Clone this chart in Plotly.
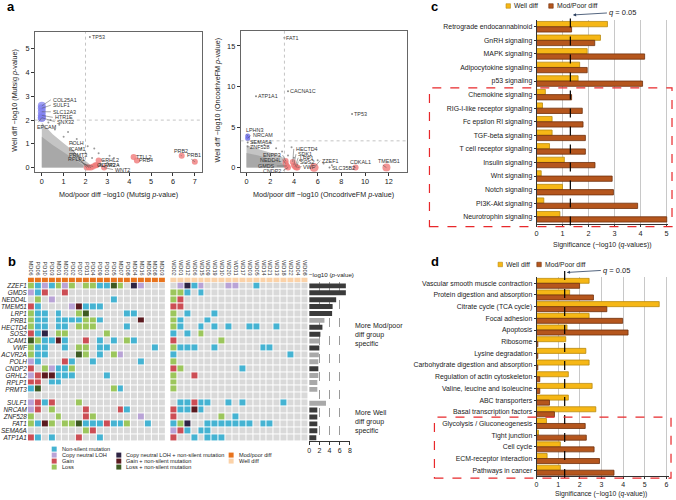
import math
import plotly.graph_objects as go

W, H = 676, 500
def fx(p): return p / W
def fy(p): return 1 - p / H
FONT = "Liberation Sans, Arial, Helvetica, sans-serif"

# ---------------- panel a data ----------------
mut_cloud_x = [0, 0, 0.2, 0.5, 0.9, 1.3, 1.7, 2.0, 2.25, 2.25]
mut_cloud_y = [0, 1.9, 1.7, 1.4, 1.1, 0.8, 0.5, 0.3, 0.1, 0]
mut_core_x = [0, 0, 0.5, 1.0, 1.5, 1.9, 1.9]
mut_core_y = [0, 1.3, 0.95, 0.65, 0.35, 0.1, 0]
mut_sparse_x = [0.3, 0.6, 1.0, 1.4, 1.8, 2.0, 2.3, 2.6, 2.8, 3.0, 3.3, 3.5, 2.4, 1.2, 0.8, 2.1, 3.1, 2.7, 1.6, 0.4]
mut_sparse_y = [1.9, 1.6, 1.3, 1.0, 0.8, 0.6, 0.4, 0.6, 0.3, 0.2, 0.4, 0.1, 0.8, 1.5, 1.8, 0.9, 0.5, 0.15, 1.2, 2.0]
mut_blue_genes = ["COL25A1", "SULF1", "SLC12A3", "HTR1E", "SNX32", "EPCAM"]
mut_blue_x = [0, 0, 0, 0, 0, 0]
mut_blue_y = [2.6, 2.5, 2.35, 2.2, 2.1, 2.1]
mut_red_genes = ["POLH", "ICAM1", "PRMT3", "RPLP1", "OLFM3", "GRHL2", "ACVR2A", "WNT2", "TTLL2", "PRB4", "PRB2", "PRB1"]
mut_red_x = [2.05, 2.15, 2.25, 2.35, 2.45, 2.6, 2.5, 2.85, 4.2, 4.35, 6.4, 7.0]
mut_red_y = [0.0, 0.0, 0.0, 0.05, 0.1, 0.3, 0.1, 0.0, 0.45, 0.3, 0.5, 0.25]
mut_gray_genes = ["TP53"]
mut_gray_x = [2.2]
mut_gray_y = [5.5]
mut_thr_x, mut_thr_y = 2.0, 2.0

fm_cloud_x = [0, 0, 0.5, 1.2, 2.0, 2.8, 3.3, 3.6, 3.6]
fm_cloud_y = [0, 2.8, 2.5, 2.2, 1.9, 1.5, 1.0, 0.4, 0]
fm_core_x = [0, 0, 1.0, 2.0, 2.8, 3.2, 3.2]
fm_core_y = [0, 1.8, 1.5, 1.1, 0.7, 0.3, 0]
fm_sparse_x = [0.5, 1.5, 2.5, 3.0, 3.5, 4.0, 4.5, 5.0, 5.5, 6.0, 6.5, 7.2, 4.8, 3.8, 2.0, 1.0, 4.3, 5.2]
fm_sparse_y = [3.1, 2.8, 2.4, 2.0, 1.5, 1.2, 0.9, 0.6, 0.4, 0.9, 0.5, 0.3, 1.5, 2.5, 3.0, 3.2, 0.3, 1.1]
fm_blue_genes = ["LPHN3", "NRCAM"]
fm_blue_x = [0.1, 0.1]
fm_blue_y = [3.9, 3.6]
fm_red_genes = ["ENPP3", "NEDD4L", "GMDS", "CNDP2", "HECTD4", "SDK1", "LRP1", "SOS2", "VWF", "ZZEF1", "CDKAL1", "TMEM51"]
fm_red_x = [3.3, 3.3, 3.4, 3.5, 3.9, 4.0, 4.1, 4.2, 4.3, 5.7, 9.2, 11.8]
fm_red_y = [0.8, 0.5, 0.2, 0.0, 0.7, 0.3, 0.1, 0.0, 0.0, 0.0, 0.0, 0.0]
fm_red_size = [6, 6, 6, 6, 6, 6, 6, 6, 6, 9, 6, 8]
fm_gray_genes = ["FAT1", "ATP1A1", "CACNA1C", "TP53", "SEMA6A", "ZNF528", "SLC35B2"]
fm_gray_x = [3.2, 0.8, 3.5, 8.9, 0.1, 0.1, 7.0]
fm_gray_y = [16.0, 8.8, 9.4, 6.6, 3.1, 2.6, 0.0]
fm_thr_x, fm_thr_y = 3.2, 3.3

# ---------------- panel b data ----------------
genes_top = ["ZZEF1", "GMDS", "NEDD4L", "TMEM51", "LRP1", "PRB1", "HECTD4", "SOS2", "ICAM1", "VWF",
             "ACVR2A", "POLH", "CNDP2", "GRHL2", "RPLP1", "PRMT3"]
genes_bottom = ["SULF1", "NRCAM", "ZNF528", "FAT1", "SEMA6A", "ATP1A1"]
mp_samples = ["MD06", "PD06", "PD10", "PD03", "MD01", "MD02", "PD02", "PD07", "PD11", "PD04",
              "PD09", "PD01", "PD05", "MD07", "PD08", "MD04", "MD16", "MD05", "MD08", "MD03"]
wd_samples = ["WD02", "WD01", "WD12", "WD06", "WD15", "WD09", "WD19", "WD10", "WD20", "WD11",
              "WD17", "WD03", "WD05", "WD14", "WD21", "WD13", "WD18", "WD22", "WD04", "WD08"]
# . none, B non-silent, L CN-LOH, R gain, G loss, P CN-LOH+mut, D gain+mut, K loss+mut
mp_rows_top = ["GBLBGLG.GGBBKG.PL...", "LBR..R..............", ".G.L........B.......", "RB....LDBBB.........",
               "GBB.B..GK.....BB....", "GBB.BBBBGGB.....D...", "GBB.BB.GGG....B.....", "RBP.GG.....G........",
               "KGBBDB..R.B.B.GB....", "GBB..B.GG.BB......B.", "GBB....KG.B.GL......", "LB...RB..B......B...",
               "R.GLBBG.............", "LRDDBBB....B........", "RR.BB...............", "BK..........GB......"]
wd_rows_top = [".LPBL...LL..B.......", "GGB.B...............", "GR..................", "RR..................",
               "G.B...B.............", "GB...B..............", "GB..B.B.B..BB..B....", "B.B.G...............",
               "R......G............", "GBBB..B......BB.....", "B................B..", "G...................",
               "RG........B.........", "G..R................", "G...................", "G..................."]
mp_rows_bottom = ["LRBR...G............", "LR.G....R....RB.....", "G...G...RG......L...",
                  "GBDG.GGKBBBRBBG..B..", "........GR..........", "RB.B...R..B........."]
wd_rows_bottom = [".BBRBB..B.B.....B...", "RBBDB...............", "R......G.B..........",
                  "BGP..BBBBBBB.BB.....", "LRB.BB..............", "R..B.BBB............"]
pval_top = [7.2, 7.2, 5.3, 4.6, 4.5, 3.0, 2.6, 2.2, 2.0, 2.0, 1.9, 1.8, 1.8, 1.8, 1.6, 1.6]
pval_bottom = [3.3, 1.6, 1.6, 1.6, 1.6, 1.4]
pval_dark_top = [1, 1, 1, 1, 1, 0, 1, 1, 0, 1, 0, 0, 1, 0, 0, 0]
pval_dark_bottom = [0, 1, 1, 1, 1, 1]

# ---------------- panel c data ----------------
c_pathways = ["Retrograde endocannabinoid", "GnRH signaling", "MAPK signaling", "Adipocytokine signaling",
              "p53 signaling", "Chemokine signaling", "RIG-I-like receptor signaling", "Fc epsilon RI signaling",
              "TGF-beta signaling", "T cell receptor signaling", "Insulin signaling", "Wnt signaling",
              "Notch signaling", "PI3K-Akt signaling", "Neurotrophin signaling"]
c_well = [2.73, 2.46, 1.95, 1.66, 1.6, 0.34, 0.23, 0.6, 0.6, 0.5, 1.07, 0.18, 1.0, 0.28, 0.9]
c_modpoor = [1.35, 2.24, 4.16, 1.95, 4.08, 1.35, 1.76, 1.79, 1.88, 1.88, 2.25, 2.91, 2.96, 3.89, 5.01]

# ---------------- panel d data ----------------
d_pathways = ["Vascular smooth muscle contraction", "Protein digestion and absorption", "Citrate cycle (TCA cycle)",
              "Focal adhesion", "Apoptosis", "Ribosome", "Lysine degradation", "Carbohydrate digestion and absorption",
              "Regulation of actin cytoskeleton", "Valine, leucine and isoleucine", "ABC transporters",
              "Basal transcription factors", "Glycolysis / Gluconeogenesis", "Tight junction", "Cell cycle",
              "ECM-receptor interaction", "Pathways in cancer"]
d_well = [2.43, 1.53, 5.67, 2.43, 1.41, 1.35, 2.28, 2.43, 1.47, 2.57, 1.47, 2.74, 0.46, 0.09, 1.1, 0.49, 1.1]
d_modpoor = [1.99, 2.63, 3.25, 3.98, 4.23, 0.06, 0.06, 0.06, 0.15, 0.15, 0.6, 0.83, 2.25, 2.3, 2.66, 2.91, 3.58]
q_thresh = 0.05
q_line = -math.log10(q_thresh)

YEL, YEL_L = "#F6B716", "#B98A10"
BRN, BRN_L = "#B5561D", "#6E300C"
code_map = {".": 0, "B": 1, "L": 2, "R": 3, "G": 4, "P": 5, "D": 6, "K": 7}
code_cols = ["#d9d9d9", "#45b3d2", "#b9a3d6", "#cc4e55", "#9cc65c", "#2e2444", "#5b1a1f", "#3e5a22"]
MP_COL, WD_COL = "#E8731C", "#FBD2A8"

fig = go.Figure()

def cloud(xs, ys, color, xa, ya):
    fig.add_trace(go.Scatter(x=xs, y=ys, fill="toself", mode="lines", line=dict(width=0),
                             fillcolor=color, xaxis=xa, yaxis=ya, hoverinfo="skip"))

def pts(xs, ys, color, size, xa, ya, opacity=1.0):
    fig.add_trace(go.Scatter(x=xs, y=ys, mode="markers", xaxis=xa, yaxis=ya,
                             marker=dict(color=color, size=size, opacity=opacity, line=dict(width=0))))

cloud(mut_cloud_x, mut_cloud_y, "#c4c4c4", "x", "y")
cloud(mut_core_x, mut_core_y, "#a8a8a8", "x", "y")
pts(mut_sparse_x, mut_sparse_y, "#9a9a9a", 2, "x", "y")
pts(mut_gray_x, mut_gray_y, "#888", 2, "x", "y")
pts(mut_blue_x, mut_blue_y, "#7c7cf0", 8, "x", "y", 0.7)
pts(mut_red_x, mut_red_y, "#f07a7a", 6, "x", "y", 0.8)

cloud(fm_cloud_x, fm_cloud_y, "#c4c4c4", "x2", "y2")
cloud(fm_core_x, fm_core_y, "#a8a8a8", "x2", "y2")
pts(fm_sparse_x, fm_sparse_y, "#9a9a9a", 2, "x2", "y2")
pts(fm_gray_x, fm_gray_y, "#888", 2, "x2", "y2")
pts(fm_blue_x, fm_blue_y, "#6a6ae8", 5, "x2", "y2", 0.8)
pts(fm_red_x, fm_red_y, "#f07a7a", fm_red_size, "x2", "y2", 0.8)

# ---- panel b heatmaps
ncol = 20
rows_mp = mp_rows_top + ["." * ncol] + mp_rows_bottom
rows_wd = wd_rows_top + ["." * ncol] + wd_rows_bottom
def zmat(rows):
    return [[code_map[ch] for ch in r.ljust(ncol, ".")[:ncol]] for r in rows]
cs = []
n = len(code_cols)
for i, c in enumerate(code_cols):
    cs.append([i / n, c]); cs.append([(i + 1) / n, c])
mp_x = list(range(ncol))
wd_x = [i + 20.7 for i in range(ncol)]
yrows = list(range(len(rows_mp)))
for xs, rows in ((mp_x, rows_mp), (wd_x, rows_wd)):
    fig.add_trace(go.Heatmap(x=xs, y=yrows, z=zmat(rows), colorscale=cs, zmin=-0.5, zmax=n - 0.5,
                             xgap=1, ygap=1, showscale=False, xaxis="x5", yaxis="y5"))
fig.add_trace(go.Heatmap(x=mp_x, y=[0], z=[[0] * ncol], colorscale=[[0, MP_COL], [1, MP_COL]],
                         xgap=1, showscale=False, xaxis="x5", yaxis="y6"))
fig.add_trace(go.Heatmap(x=wd_x, y=[0], z=[[0] * ncol], colorscale=[[0, WD_COL], [1, WD_COL]],
                         xgap=1, showscale=False, xaxis="x5", yaxis="y6"))
gene_rows = genes_top + [""] + genes_bottom
pv = pval_top + [None] + pval_bottom
pdk = pval_dark_top + [0] + pval_dark_bottom
bar_cols = ["#3b3b3b" if d else "#a9a9a9" for d in pdk]
fig.add_trace(go.Bar(x=pv, y=yrows, orientation="h", width=0.72, marker=dict(color=bar_cols, line=dict(width=0)),
                     xaxis="x7", yaxis="y5"))

# ---- panel c / d bars
def bars(cats, well, mod, xa, ya, w):
    fig.add_trace(go.Bar(y=cats, x=well, orientation="h", width=w, offset=-w, xaxis=xa, yaxis=ya,
                         marker=dict(color=YEL, line=dict(color=YEL_L, width=0.8))))
    fig.add_trace(go.Bar(y=cats, x=mod, orientation="h", width=w, offset=0, xaxis=xa, yaxis=ya,
                         marker=dict(color=BRN, line=dict(color=BRN_L, width=0.8))))
bars(c_pathways, c_well, c_modpoor, "x3", "y3", 0.39)
bars(d_pathways, d_well, d_modpoor, "x4", "y4", 0.43)

tf = dict(family=FONT, size=7.3, color="#222")
ax_common = dict(showline=True, linecolor="#333", linewidth=0.8, ticks="outside", ticklen=3, tickwidth=0.8,
                 tickcolor="#333", zeroline=False, showgrid=False, tickfont=tf)
catfont = dict(family=FONT, size=6.9, color="#222")

layout = dict(
    width=W, height=H, margin=dict(l=0, r=0, t=0, b=0), autosize=False,
    paper_bgcolor="white", plot_bgcolor="white", showlegend=False, barmode="overlay",
    font=dict(family=FONT, color="#222"),
    xaxis=dict(ax_common, domain=[fx(33), fx(201)], range=[-0.32, 7.32], tickvals=list(range(8)),
               anchor="y", mirror=True, linecolor="#666"),
    yaxis=dict(ax_common, domain=[fy(172), fy(32)], range=[-0.17, 5.71], tickvals=list(range(6)),
               anchor="x", mirror=True, linecolor="#666"),
    xaxis2=dict(ax_common, domain=[fx(240), fx(407)], range=[-0.5, 13.5], tickvals=list(range(0, 13, 2)),
                anchor="y2", mirror=True, linecolor="#666"),
    yaxis2=dict(ax_common, domain=[fy(172), fy(31)], range=[-0.5, 16.85], tickvals=[0, 5, 10, 15],
                anchor="x2", mirror=True, linecolor="#666"),
    xaxis3=dict(ax_common, domain=[fx(537.7), fx(670)], range=[0, 5.06], tickvals=list(range(6)),
                anchor="y3", showgrid=True, gridcolor="#c8c8c8", gridwidth=1, linecolor="#333"),
    yaxis3=dict(ax_common, domain=[fy(224), fy(20)], autorange="reversed", anchor="x3", ticklen=2,
                tickfont=catfont, type="category"),
    xaxis4=dict(ax_common, domain=[fx(537.7), fx(670.5)], range=[0, 6.1], tickvals=list(range(7)),
                anchor="y4", showgrid=True, gridcolor="#c8c8c8", gridwidth=1, ticklen=2,
                tickfont=dict(family=FONT, size=7, color="#222")),
    yaxis4=dict(ax_common, domain=[fy(477), fy(278)], autorange="reversed", anchor="x4", ticklen=2,
                tickfont=catfont, type="category"),
    xaxis5=dict(domain=[fx(26), fx(308)], range=[-0.5, 40.2], anchor="y6", side="top",
                tickvals=mp_x + wd_x, ticktext=mp_samples + wd_samples, tickangle=90,
                tickfont=dict(family=FONT, size=5.6, color="#333"), ticks="", showgrid=False,
                zeroline=False, showline=False),
    yaxis5=dict(domain=[fy(442), fy(283)], range=[len(yrows) - 0.5, -0.5], anchor="x5",
                tickvals=yrows, ticktext=gene_rows, ticks="", showgrid=False, zeroline=False,
                tickfont=dict(family=FONT, size=6.4, color="#222", style="italic"), showline=False),
    yaxis6=dict(domain=[fy(282.8), fy(278)], range=[-0.5, 0.5], anchor="x5", showticklabels=False,
                showgrid=False, zeroline=False, ticks=""),
    xaxis7=dict(ax_common, domain=[fx(309), fx(350)], range=[0, 8], tickvals=[0, 2, 4, 6, 8], anchor="y5",
                showgrid=True, gridcolor="#9a9a9a", griddash="dash", gridwidth=0.6,
                tickfont=dict(family=FONT, size=7, color="#222")),
)
fig.update_layout(**layout)

shapes = []
anns = []
for xa, ya, tx, ty in (("x", "y", mut_thr_x, mut_thr_y), ("x2", "y2", fm_thr_x, fm_thr_y)):
    shapes.append(dict(type="line", xref=xa, yref=ya + " domain", x0=tx, x1=tx, y0=0, y1=1,
                       line=dict(color="#aaa", width=0.7, dash="dot")))
    shapes.append(dict(type="line", xref=xa + " domain", yref=ya, x0=0, x1=1, y0=ty, y1=ty,
                       line=dict(color="#aaa", width=0.7, dash="dot")))

shapes.append(dict(type="line", xref="x3", yref="paper", x0=q_line, x1=q_line, y0=fy(226), y1=fy(13),
                   line=dict(color="black", width=1.2, dash="dash")))
shapes.append(dict(type="line", xref="x4", yref="paper", x0=q_line, x1=q_line, y0=fy(479), y1=fy(270),
                   line=dict(color="black", width=1.2, dash="dash")))
for xa, yq in (("x3", 13), ("x4", 271)):
    anns.append(dict(x=q_line + 0.1, y=fy(yq + 2), xref=xa, yref="paper", text="<i>q</i> = 0.05",
                     showarrow=True, arrowhead=2, arrowsize=0.8, arrowwidth=0.8, ax=34, ay=-2,
                     font=dict(size=7.5), xanchor="left"))
shapes.append(dict(type="rect", xref="paper", yref="paper", x0=fx(430), x1=fx(674), y0=fy(227), y1=fy(88),
                   line=dict(color="#e8282b", width=1.2, dash="dash")))
shapes.append(dict(type="rect", xref="paper", yref="paper", x0=fx(435), x1=fx(673), y0=fy(479), y1=fy(418),
                   line=dict(color="#e8282b", width=1.2, dash="dash")))

def swatch(x, y, color, s=5, line=None):
    shapes.append(dict(type="rect", xref="paper", yref="paper", x0=fx(x), x1=fx(x + s), y0=fy(y + s / 2),
                       y1=fy(y - s / 2), fillcolor=color, line=dict(width=0.6 if line else 0, color=line or color)))

def txt(x, y, text, size=7.5, xanchor="left", color="#222", yanchor="middle", **kw):
    anns.append(dict(x=fx(x), y=fy(y), xref="paper", yref="paper", text=text, showarrow=False,
                     xanchor=xanchor, yanchor=yanchor, font=dict(size=size, color=color), **kw))

swatch(507, 6, YEL, 4.5, YEL_L); txt(513, 6, "Well diff", 6.8)
swatch(550, 6, BRN, 4.5, BRN_L); txt(556, 6, "Mod/Poor diff", 6.8)
swatch(499, 265, YEL, 4.5, YEL_L); txt(505, 265, "Well diff", 6.8)
swatch(538, 265, BRN, 4.5, BRN_L); txt(544, 265, "Mod/Poor diff", 6.8)
txt(604, 245, "Significance (\u2212log10 (<i>q</i>-values))", 7, "center")
txt(603, 495, "Significance (\u2212log10 (<i>q</i>-value))", 6.8, "center")

leg1 = [("Non-silent mutation", 1), ("Copy neutral LOH", 2), ("Gain", 3), ("Loss", 4)]
for i, (t, k) in enumerate(leg1):
    swatch(50, 450 + 6 * i, code_cols[k], 5); txt(58, 450 + 6 * i, t, 5.6)
leg2 = [("Copy neutral LOH + non-silent mutation", 5), ("Gain + non-silent mutation", 6), ("Loss + non-silent mutation", 7)]
for i, (t, k) in enumerate(leg2):
    swatch(115, 456 + 6 * i, code_cols[k], 5); txt(123, 456 + 6 * i, t, 5.6)
swatch(228, 456, MP_COL, 5); txt(236, 456, "Mod/poor diff", 5.6)
swatch(228, 462, WD_COL, 5); txt(236, 462, "Well diff", 5.6)
txt(331, 275, "\u2212log10 (<i>p</i>-value)", 6.2, "center")
txt(353, 336, "More Mod/poor<br>diff group<br>specific", 7, "left", align="left")
txt(353, 423, "More Well<br>diff group<br>specific", 7, "left", align="left")

txt(117, 195, "Mod/poor diff \u2212log10 (Mutsig <i>p</i>-value)", 7.2, "center")
txt(323, 195, "Mod/poor diff \u2212log10 (OncodriveFM <i>p</i>-value)", 7.2, "center")
txt(13, 100, "Well diff \u2212log10 (Mutsig <i>p</i>-value)", 7.2, "center", textangle=-90)
txt(217, 100, "Well diff \u2212log10 (OncodriveFM <i>p</i>-value)", 7.2, "center", textangle=-90)

for lx, ly, L in ((3, 7, "a"), (4, 262, "b"), (430, 7, "c"), (430, 262, "d")):
    txt(lx, ly, "<b>%s</b>" % L, 13, "left", color="black")

def glab(xa, ya, x, y, t, dx, dy, xanchor="left", line=True):
    anns.append(dict(x=x, y=y, xref=xa, yref=ya, text=t, showarrow=line, arrowhead=0, arrowwidth=0.5,
                     arrowcolor="#555", ax=dx, ay=dy, standoff=0, xanchor=xanchor,
                     font=dict(size=5.4, color="#333")))
mut_offsets = {"COL25A1": (9, -6), "SULF1": (9, -3), "SLC12A3": (9, 0), "HTR1E": (11, 2), "SNX32": (13, 4),
               "EPCAM": (-7, 9), "POLH": (-20, -25), "ICAM1": (-22, -19), "PRMT3": (-24, -13),
               "RPLP1": (-27, -7), "OLFM3": (-6, -11), "GRHL2": (3, -4), "ACVR2A": (3, 0), "WNT2": (9, 2),
               "TTLL2": (6, -7), "PRB4": (5, 1), "PRB2": (-10, -5), "PRB1": (-10, -7)}
for g, x, y in zip(mut_blue_genes + mut_red_genes, mut_blue_x + mut_red_x, mut_blue_y + mut_red_y):
    dx, dy = mut_offsets[g]
    glab("x", "y", x, y, g, dx, dy, "left", line=abs(dx) > 6)
for g, x, y in zip(mut_gray_genes, mut_gray_x, mut_gray_y):
    glab("x", "y", x, y, g, 3, 0, "left", line=False)
fm_offsets = {"LPHN3": (-4, -6), "NRCAM": (3, -3), "ENPP3": (-3, -6), "NEDD4L": (-3, -4), "GMDS": (-10, 0),
              "CNDP2": (-5, 3), "HECTD4": (1, -13), "SDK1": (2, -11), "LRP1": (3, -9), "SOS2": (2, -6),
              "VWF": (4, -1), "ZZEF1": (6, -7), "CDKAL1": (-8, -6), "TMEM51": (-10, -7)}
right_anchor = {"ENPP3", "NEDD4L", "GMDS", "CNDP2"}
for g, x, y in zip(fm_blue_genes + fm_red_genes, fm_blue_x + fm_red_x, fm_blue_y + fm_red_y):
    dx, dy = fm_offsets[g]
    glab("x2", "y2", x, y, g, dx, dy, "right" if g in right_anchor else "left", line=True)
for g, x, y in zip(fm_gray_genes, fm_gray_x, fm_gray_y):
    if g in ("SEMA6A", "ZNF528"):
        glab("x2", "y2", x, y, g, -4, 1, "left", line=False)
    else:
        glab("x2", "y2", x, y, g, 2, 0, "left", line=False)

fig.update_layout(shapes=shapes, annotations=anns)
fig.write_html("out.html", config={"displayModeBar": False},
               post_script="document.body.style.margin='0';document.body.style.overflow='hidden';")
